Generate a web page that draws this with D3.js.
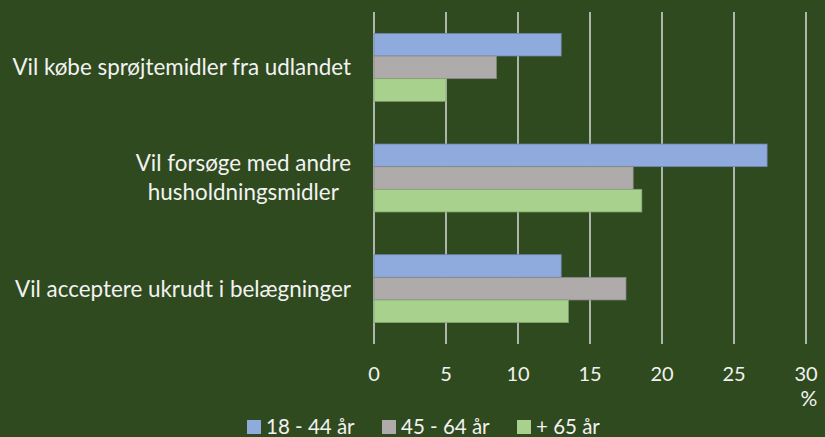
<!DOCTYPE html>
<html>
<head>
<meta charset="utf-8">
<script src="https://cdn.jsdelivr.net/npm/d3@7"></script>
<style>
  html, body { margin: 0; padding: 0; background: #2f4a1e; }
  svg { display: block; }
  text { font-family: Lato, "Open Sans", sans-serif; fill: #f2f2f2; }
</style>
</head>
<body>
<div id="chart"></div>
<script>
// data
const categories = [
  'Vil købe sprøjtemidler fra udlandet',
  'Vil forsøge med andre husholdningsmidler',
  'Vil acceptere ukrudt i belægninger',
]
const categoryLines = [
  ['Vil købe sprøjtemidler fra udlandet'],
  ['Vil forsøge med andre', 'husholdningsmidler'],
  ['Vil acceptere ukrudt i belægninger'],
]
const seriesNames = ['18 - 44 år', '45 - 64 år', '+ 65 år']
const values1844 = [13, 27.3, 13]
const values4564 = [8.5, 18, 17.5]
const values65 = [5, 18.6, 13.5]
const xTicks = [0, 5, 10, 15, 20, 25, 30]
const colors = ['#8faadc', '#afabab', '#a9d18e']

const width = 825
const height = 437
const margin = { top: 12, right: 19, bottom: 93, left: 374 }

const svg = d3
  .create('svg')
  .attr('width', width)
  .attr('height', height)

svg.append('rect').attr('width', width).attr('height', height).attr('fill', '#2f4a1e')

const xScale = d3.scaleLinear().domain([0, 30]).range([margin.left, width - margin.right])
const yScale = d3
  .scaleBand()
  .domain(categories)
  .range([margin.top, height - margin.bottom])
  .paddingInner(0.386)
  .paddingOuter(0.193)
const subScale = d3.scaleBand().domain(seriesNames).range([0, yScale.bandwidth()])

// gridlines
svg
  .append('g')
  .selectAll('line')
  .data(xTicks)
  .join('line')
  .attr('x1', d => xScale(d))
  .attr('x2', d => xScale(d))
  .attr('y1', margin.top)
  .attr('y2', height - margin.bottom)
  .attr('stroke', '#d9d9d9')
  .attr('stroke-width', 1.5)

// bars
const table = categories.map((c, i) => ({
  category: c,
  values: [values1844[i], values4564[i], values65[i]],
}))

const groups = svg
  .append('g')
  .selectAll('g')
  .data(table)
  .join('g')
  .attr('transform', d => `translate(0, ${yScale(d.category)})`)

groups
  .selectAll('rect')
  .data(d => d.values.map((v, j) => ({ name: seriesNames[j], value: v, color: colors[j] })))
  .join('rect')
  .attr('x', xScale(0))
  .attr('y', d => subScale(d.name))
  .attr('width', d => xScale(d.value) - xScale(0))
  .attr('height', subScale.bandwidth())
  .attr('fill', d => d.color)
  .attr('stroke', d => d3.color(d.color).darker(0.7))
  .attr('stroke-width', 0.75)

// category labels
const labelRight = margin.left - 23
const labels = svg
  .append('g')
  .selectAll('text')
  .data(categories)
  .join('text')
  .attr('font-size', 22.4)
  .attr('text-anchor', 'middle')

labels.each(function (d, i) {
  const lines = categoryLines[i]
  const t = d3.select(this)
  const cy = yScale(d) + yScale.bandwidth() / 2
  lines.forEach((line, k) => {
    t.append('tspan')
      .attr('y', cy + (k - (lines.length - 1) / 2) * 29)
      .attr('dy', '0.35em')
      .text(line)
  })
})

// x tick labels
svg
  .append('g')
  .selectAll('text')
  .data(xTicks)
  .join('text')
  .attr('x', d => xScale(d))
  .attr('y', 374)
  .attr('dy', '0.35em')
  .attr('text-anchor', 'middle')
  .attr('font-size', 20)
  .text(d => d)

// unit label under the last tick
svg
  .append('text')
  .attr('x', xScale(30) + 3)
  .attr('y', 399)
  .attr('dy', '0.35em')
  .attr('text-anchor', 'middle')
  .attr('font-size', 21)
  .text('%')

// legend
const legendX = [247, 382, 517]
const legend = svg
  .append('g')
  .selectAll('g')
  .data(seriesNames)
  .join('g')
  .attr('transform', (d, i) => `translate(${legendX[i]}, 427)`)

legend
  .append('rect')
  .attr('x', 0)
  .attr('y', -7)
  .attr('width', 14)
  .attr('height', 14)
  .attr('fill', (d, i) => colors[i])

legend
  .append('text')
  .attr('x', 19)
  .attr('dy', '0.35em')
  .attr('font-size', 20.5)
  .text(d => d)

document.getElementById('chart').appendChild(svg.node())

// place labels: widest line right-aligned, lines centred on each other
labels.each(function () {
  const t = d3.select(this)
  let maxW = 0
  t.selectAll('tspan').each(function () {
    maxW = Math.max(maxW, this.getComputedTextLength())
  })
  t.selectAll('tspan').attr('x', labelRight - maxW / 2)
})
</script>
</body>
</html>
